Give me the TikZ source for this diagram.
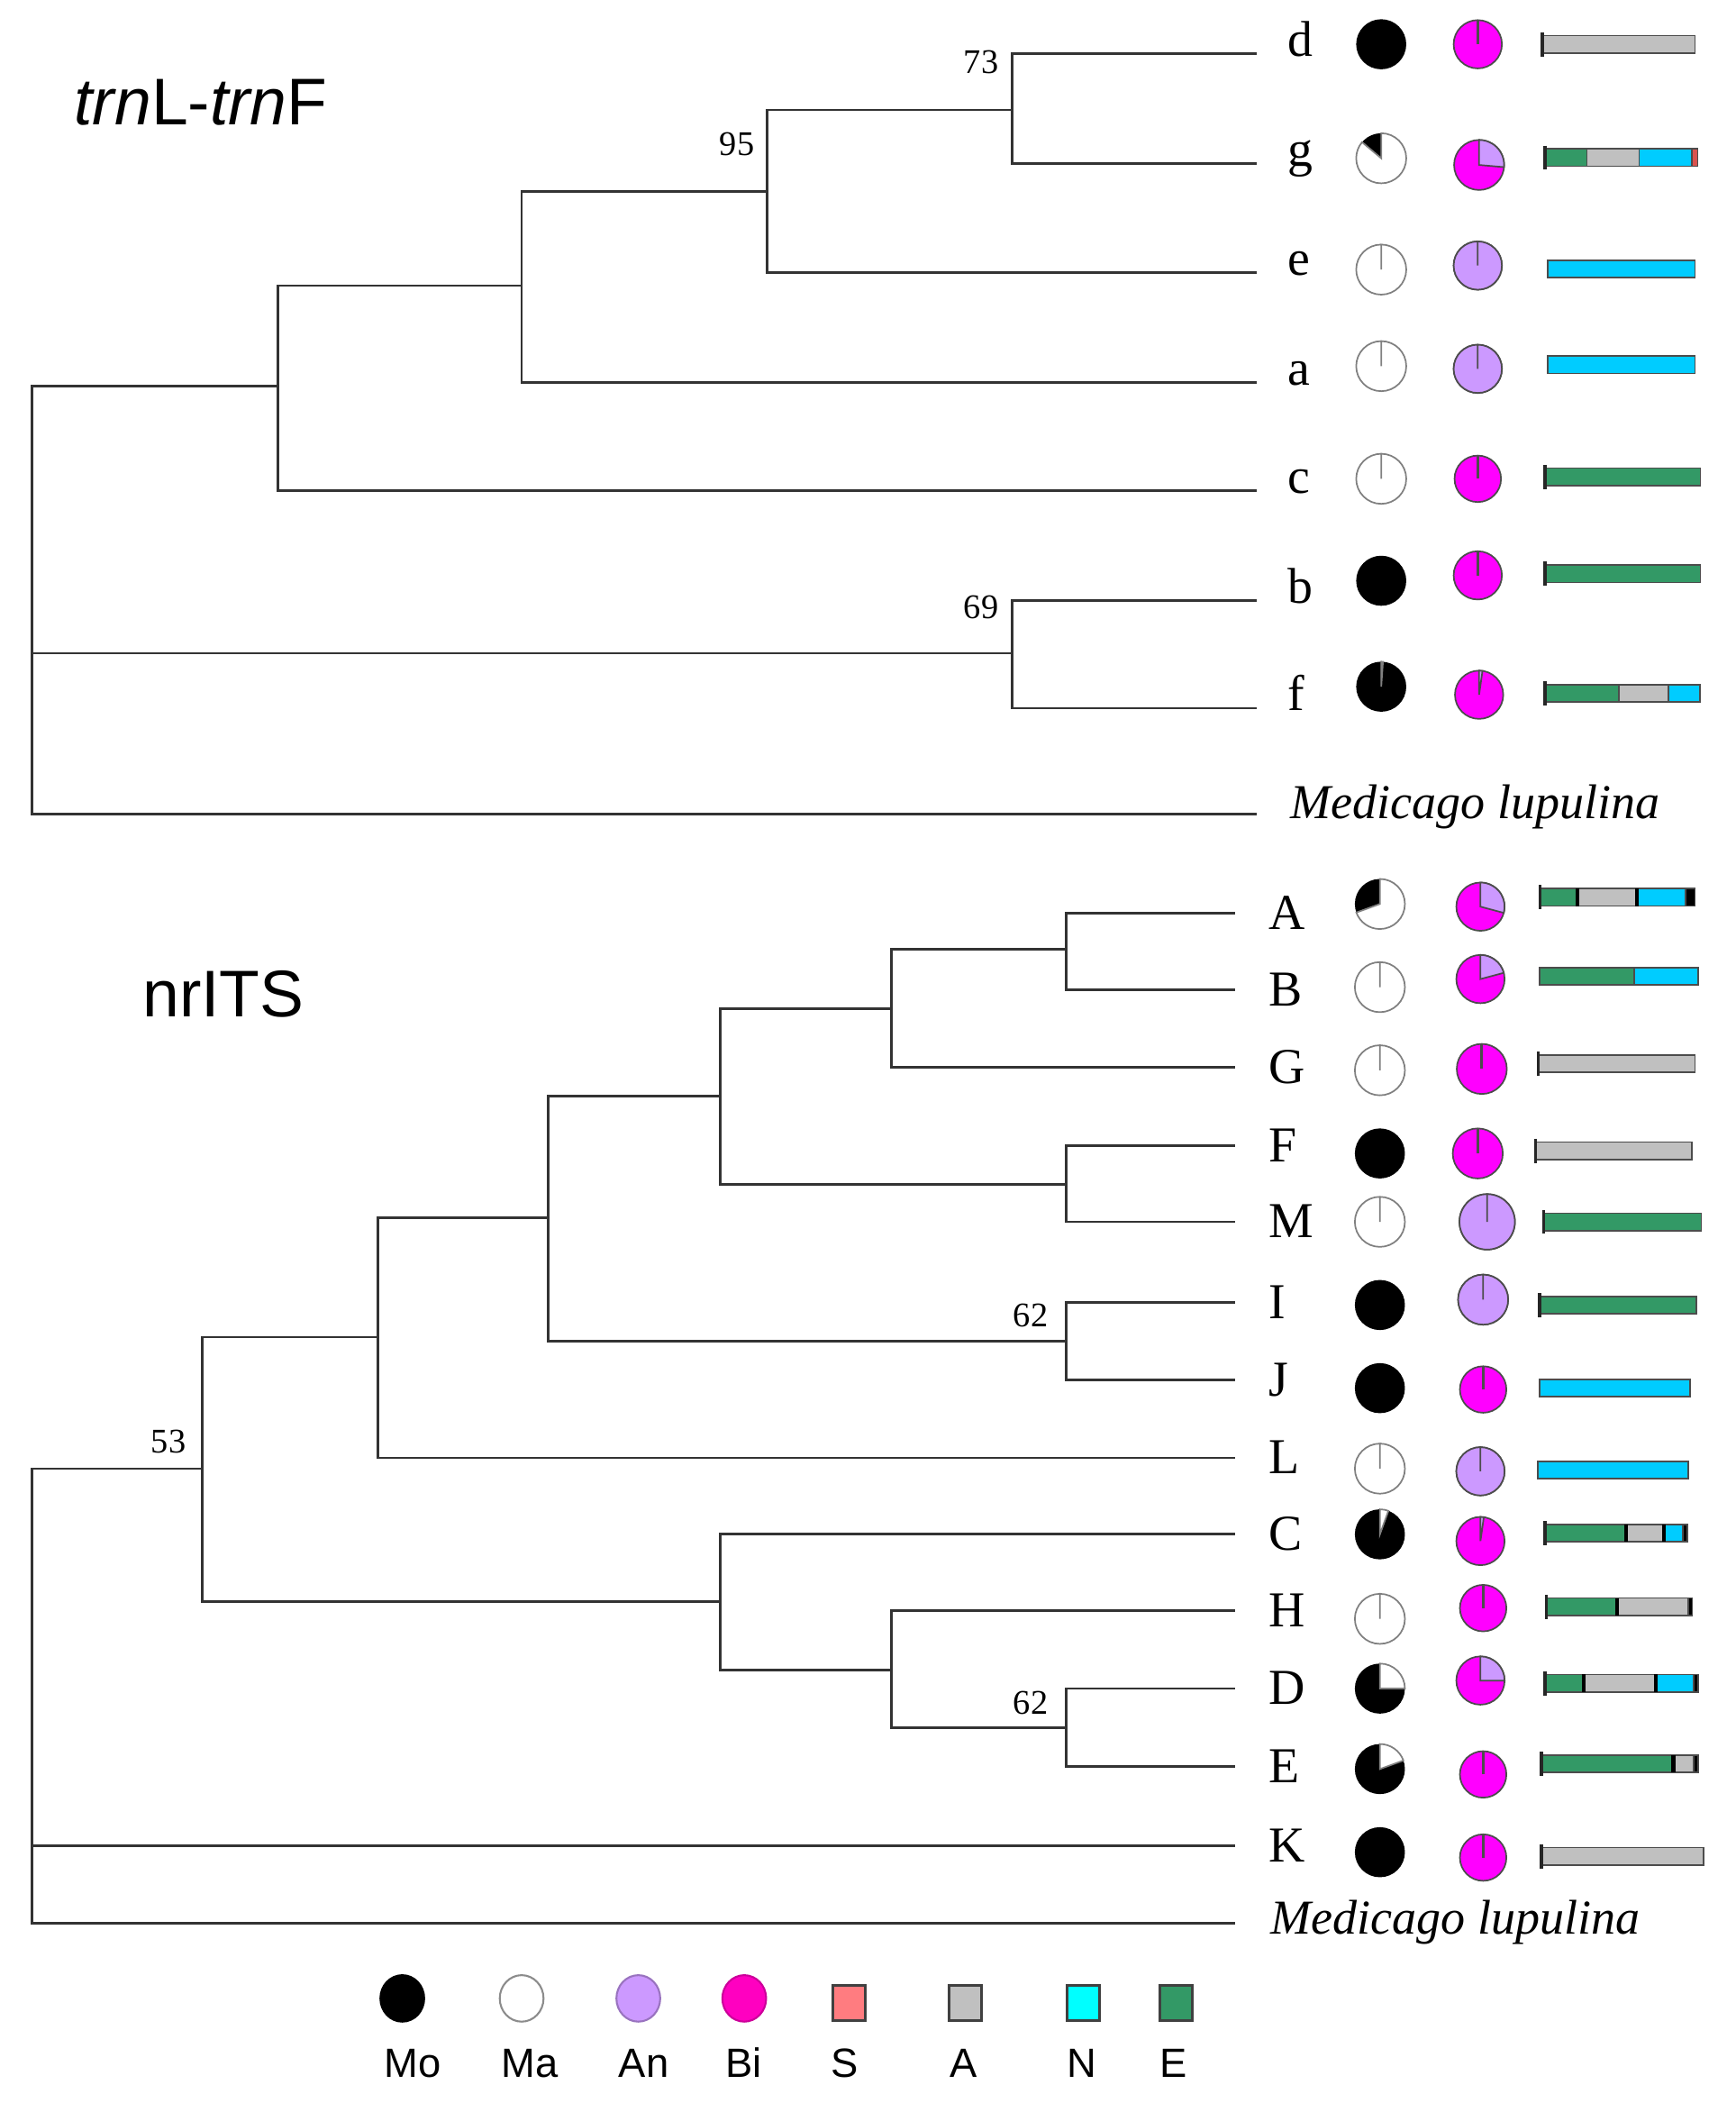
\documentclass[tikz,border=0pt]{standalone}
\usepackage{fontspec}
\setmainfont{Liberation Serif}
\setsansfont{Liberation Sans}
\usepackage{xcolor}
\usetikzlibrary{shapes.geometric}

\definecolor{bicol}{HTML}{FF00FF}
\definecolor{ancol}{HTML}{CC99FF}
\definecolor{bikey}{HTML}{FF00C0}
\definecolor{scol}{HTML}{FF7C80}
\definecolor{acol}{HTML}{C0C0C0}
\definecolor{ncol}{HTML}{00CCFF}
\definecolor{nkey}{HTML}{00FFFF}
\definecolor{ecol}{HTML}{339966}
\definecolor{redbit}{HTML}{D9534F}

\begin{document}
\begin{tikzpicture}[x=0.015cm, y=-0.015cm,
    branch/.style={line width=0.8pt, draw=black!80},
    tiplabel/.style={font=\fontsize{16}{18}\selectfont, anchor=base west, inner sep=0pt},
    outlabel/.style={font=\itshape\fontsize{15.5}{18}\selectfont, anchor=base west, inner sep=0pt},
    bootlabel/.style={font=\fontsize{11}{13}\selectfont, anchor=base east, inner sep=0pt},
    genelabel/.style={font=\sffamily\fontsize{21}{24}\selectfont, anchor=base west, inner sep=0pt},
    keylabel/.style={font=\sffamily\fontsize{13}{15}\selectfont, anchor=base, inner sep=0pt},
    keydot/.style={ellipse, minimum width=0.49cm, minimum height=0.52cm, inner sep=0pt, line width=0.6pt},
    keybox/.style={rectangle, minimum width=0.36cm, minimum height=0.39cm, inner sep=0pt, draw=black!75, line width=0.8pt},
    barseg/.style={draw=black!70, line width=0.5pt},
    barsep/.style={draw=black, line width=1.3pt},
    bartick/.style={draw=black!85, line width=1pt}
]
\useasboundingbox (0,0) rectangle (1294,1568);

% trnL-trnF
\node[genelabel] (gene1) at (55,93) {{\itshape trn}L-{\itshape trn}F};

\coordinate (d) at (937,40);
\coordinate (g) at (937,122);
\coordinate (e) at (937,203);
\coordinate (a) at (937,285);
\coordinate (c) at (937,366);
\coordinate (b) at (937,448);
\coordinate (f) at (937,528);
\coordinate (ml1) at (937,607);
\coordinate (u73) at (755,82);
\coordinate (u95) at (572,143);
\coordinate (u3) at (389,213);
\coordinate (u2) at (207,288);
\coordinate (u69) at (755,487);
\coordinate (uroot) at (24,487);

\draw[branch] (u73) |- (d) (u73) |- (g);
\draw[branch] (u95) |- (u73) (u95) |- (e);
\draw[branch] (u3) |- (u95) (u3) |- (a);
\draw[branch] (u2) |- (u3) (u2) |- (c);
\draw[branch] (u69) |- (b) (u69) |- (f);
\draw[branch] (uroot) |- (u2) (uroot) |- (u69) (uroot) |- (ml1);

\foreach \tip/\ty in {d/42, g/124, e/205, a/287, c/368, b/450, f/530}
  \node[tiplabel] (lab-\tip) at (960,\ty) {\tip};
\node[outlabel] (lab-ml1) at (962,610) {Medicago lupulina};

\node[bootlabel] (bs73) at (745,55) {73};
\node[bootlabel] (bs95) at (563,116) {95};
\node[bootlabel] (bs69) at (745,461) {69};

% nrITS
\node[genelabel] (gene2) at (106,758) {nrITS};

\coordinate (A) at (921,681);
\coordinate (B) at (921,738);
\coordinate (G) at (921,796);
\coordinate (F) at (921,854);
\coordinate (M) at (921,911);
\coordinate (I) at (921,971);
\coordinate (J) at (921,1029);
\coordinate (L) at (921,1087);
\coordinate (C) at (921,1144);
\coordinate (H) at (921,1201);
\coordinate (D) at (921,1259);
\coordinate (E) at (921,1317);
\coordinate (K) at (921,1376);
\coordinate (ml2) at (921,1434);
\coordinate (lAB) at (795,708);
\coordinate (lABG) at (665,752);
\coordinate (lFM) at (795,883);
\coordinate (l6) at (537,817);
\coordinate (l62a) at (795,1000);
\coordinate (l4) at (409,908);
\coordinate (l5) at (282,997);
\coordinate (l62b) at (795,1288);
\coordinate (lHDE) at (665,1245);
\coordinate (lCHDE) at (537,1194);
\coordinate (l53) at (151,1095);
\coordinate (lroot) at (24,1376);

\draw[branch] (lAB) |- (A) (lAB) |- (B);
\draw[branch] (lABG) |- (lAB) (lABG) |- (G);
\draw[branch] (lFM) |- (F) (lFM) |- (M);
\draw[branch] (l6) |- (lABG) (l6) |- (lFM);
\draw[branch] (l62a) |- (I) (l62a) |- (J);
\draw[branch] (l4) |- (l6) (l4) |- (l62a);
\draw[branch] (l5) |- (l4) (l5) |- (L);
\draw[branch] (l62b) |- (D) (l62b) |- (E);
\draw[branch] (lHDE) |- (H) (lHDE) |- (l62b);
\draw[branch] (lCHDE) |- (C) (lCHDE) |- (lHDE);
\draw[branch] (l53) |- (l5) (l53) |- (lCHDE);
\draw[branch] (lroot) |- (l53) (lroot) |- (K) (lroot) |- (ml2);

\foreach \tip/\ty in {A/693, B/750, G/808, F/866, M/923, I/983, J/1041, L/1099, C/1156, H/1213, D/1271, E/1329, K/1388}
  \node[tiplabel] (lab-\tip) at (946,\ty) {\tip};
\node[outlabel] (lab-ml2) at (947,1442) {Medicago lupulina};

\node[bootlabel] (bs62a) at (782,989) {62};
\node[bootlabel] (bs62b) at (782,1278) {62};
\node[bootlabel] (bs53) at (139,1083) {53};

% Mo / Ma pies (white share, clockwise from top)
\foreach \px/\py/\w in {1030/33/0, 1030/118/310, 1030/201/360, 1030/273/360, 1030/357/360, 1030/433/0, 1030/512/4,
    1029/674/250, 1029/736/360, 1029/798/360, 1029/860/0, 1029/911/360, 1029/973/0, 1029/1035/0, 1029/1095/360,
    1029/1144/20, 1029/1207/360, 1029/1259/90, 1029/1319/70, 1029/1381/0} {
  \fill[black] (\px,\py) circle[radius=0.28cm];
  \ifnum\w>0
    \filldraw[fill=white, draw=black!50, line width=0.5pt] (\px,\py) -- ++(90:0.28cm)
      arc[start angle=90, delta angle=-\w, radius=0.28cm] -- cycle;
  \fi
}

% An / Bi pies (An share, clockwise from top)
\foreach \px/\py/\w/\r in {1102/33/0/0.27, 1103/123/95/0.28, 1102/198/360/0.27, 1102/275/360/0.27, 1102/357/0/0.26,
    1102/429/0/0.27, 1103/518/8/0.27,
    1104/676/105/0.27, 1104/730/75/0.27, 1105/797/0/0.28, 1102/860/0/0.28, 1109/911/360/0.31, 1106/969/360/0.28,
    1106/1036/0/0.26, 1104/1097/360/0.27, 1104/1149/8/0.27, 1106/1199/0/0.26, 1104/1253/90/0.27, 1106/1323/0/0.26,
    1106/1385/0/0.26} {
  \filldraw[fill=bicol, draw=black!70, line width=0.5pt] (\px,\py) circle[radius=\r cm];
  \ifnum\w>0
    \filldraw[fill=ancol, draw=black!70, line width=0.5pt] (\px,\py) -- ++(90:\r cm)
      arc[start angle=90, delta angle=-\w, radius=\r cm] -- cycle;
  \else
    \draw[black!70, line width=0.8pt] (\px,\py) -- ++(90:\r cm);
  \fi
}

% bars
\foreach \by/\xa/\xb/\col in {33/1150/1264/acol,
    117.5/1152/1183.4/ecol, 117.5/1183.4/1222.4/acol, 117.5/1222.4/1261.5/ncol, 117.5/1261.5/1266/redbit,
    200.5/1154/1264/ncol, 272/1154/1264/ncol, 355.5/1152/1268/ecol, 427.8/1152/1268/ecol,
    517/1152/1207.4/ecol, 517/1207.4/1244.2/acol, 517/1244.2/1267.6/ncol,
    669/1148.3/1176.3/ecol, 669/1176.3/1220.8/acol, 669/1220.8/1257/ncol, 669/1257/1264/black,
    728/1148/1218.4/ecol, 728/1218.4/1266.4/ncol,
    793/1147/1264/acol, 858/1145/1261.7/acol, 911/1151/1268.7/ecol, 973/1148/1265/ecol,
    1035/1148/1260.4/ncol, 1096/1147/1259/ncol,
    1143/1152/1212.6/ecol, 1143/1212.6/1240.7/acol, 1143/1240.7/1254.7/ncol, 1143/1254.7/1258.2/black,
    1198/1153/1206/ecol, 1198/1206/1259/acol, 1198/1259/1262/black,
    1255/1152/1181/ecol, 1255/1181/1234.8/acol, 1255/1234.8/1263/ncol, 1255/1263/1266.4/black,
    1315/1149.4/1247.7/ecol, 1315/1247.7/1263/acol, 1315/1263/1266.4/black,
    1384/1149.4/1270.5/acol}
  \filldraw[fill=\col, barseg] (\xa,\by-6.5) rectangle (\xb,\by+6.5);

\foreach \by/\sx in {669/1176.3, 669/1220.8, 1143/1212.6, 1143/1240.7, 1198/1206, 1255/1181, 1255/1234.8, 1315/1247.7}
  \draw[barsep] (\sx,\by-6.5) -- (\sx,\by+6.5);

\foreach \by/\sx in {33/1150, 117.5/1152, 355.5/1152, 427.8/1152, 517/1152, 669/1148.3, 793/1147, 858/1145,
    911/1151, 973/1148, 1143/1152, 1198/1153, 1255/1152, 1315/1149.4, 1384/1149.4}
  \draw[bartick] (\sx,\by-9) -- (\sx,\by+9);

% key
\node[keydot, fill=black, draw=black] (kMo) at (300,1490) {};
\node[keydot, fill=white, draw=black!45] (kMa) at (389,1490) {};
\node[keydot, fill=ancol, draw=ancol!75!black] (kAn) at (476,1490) {};
\node[keydot, fill=bikey, draw=bikey!80!black] (kBi) at (555,1490) {};
\node[keybox, fill=scol] (kS) at (633,1493.5) {};
\node[keybox, fill=acol] (kA) at (720,1493.5) {};
\node[keybox, fill=nkey] (kN) at (808,1493.5) {};
\node[keybox, fill=ecol] (kE) at (877,1493.5) {};

\node[keylabel] (tMo) at (307.7,1548.6) {Mo};
\node[keylabel] (tMa) at (395,1548.6) {Ma};
\node[keylabel] (tAn) at (480,1548.6) {An};
\node[keylabel] (tBi) at (554.6,1548.6) {Bi};
\node[keylabel] (tS) at (630,1548.6) {S};
\node[keylabel] (tA) at (718.7,1548.6) {A};
\node[keylabel] (tN) at (807,1548.6) {N};
\node[keylabel] (tE) at (875,1548.6) {E};
\end{tikzpicture}
\end{document}
